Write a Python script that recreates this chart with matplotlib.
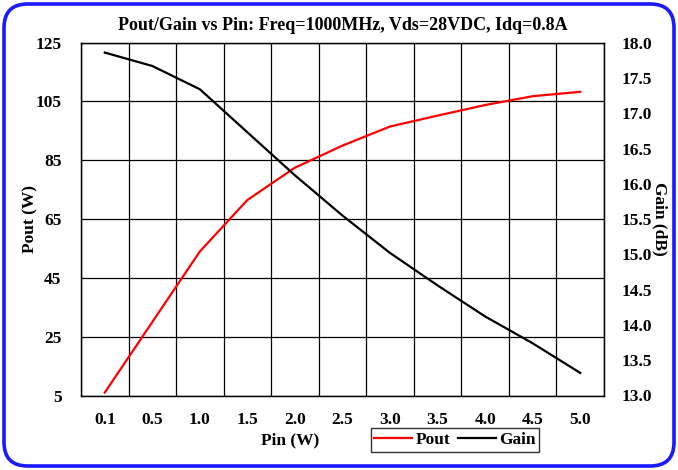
import numpy as np
import matplotlib.pyplot as plt
from matplotlib.patches import FancyBboxPatch

# values
pin_labels = ['0.1', '0.5', '1.0', '1.5', '2.0', '2.5', '3.0', '3.5', '4.0', '4.5', '5.0']
pout = [6, 30, 54, 71.5, 82.5, 90, 96.5, 100.2, 103.8, 106.8, 108.3]
gain = [17.86, 17.67, 17.34, 16.73, 16.12, 15.55, 15.02, 14.56, 14.12, 13.74, 13.32]

plt.rcParams['font.family'] = ['Liberation Serif', 'DejaVu Serif']
plt.rcParams['font.weight'] = 'bold'

fig = plt.figure(figsize=(6.78, 4.70), dpi=100)
ax = fig.add_axes([81/678, 1-395.5/470, (604-81)/678, (395.5-42.7)/470])
ax2 = ax.twinx()

x = np.arange(len(pin_labels))
l1, = ax.plot(x, pout, color='#ff0000', lw=1.6, label='Pout', zorder=3)
l2, = ax2.plot(x, gain, color='black', lw=1.6, label='Gain', zorder=3)

ax.set_xlim(-0.5, len(pin_labels) - 0.5)
ax.set_ylim(5, 125)
ax.set_yticks(np.arange(5, 126, 20))
ax2.set_ylim(13, 18)
ax2.set_yticks(np.arange(13, 18.01, 0.5))
ax2.set_yticklabels([f'{v:.1f}' for v in np.arange(13, 18.01, 0.5)])
ax.set_xticks(x)
ax.set_xticklabels(pin_labels)
ax.set_xticks(np.arange(-0.5, len(pin_labels), 1), minor=True)

ax.grid(axis='y', which='major', color='black', lw=0.9)
ax.grid(axis='x', which='minor', color='black', lw=0.9)
ax.set_axisbelow(True)

for a in (ax, ax2):
    a.tick_params(length=0, which='both', labelsize=12.5)
    for s in a.spines.values():
        s.set_color('black')
        s.set_linewidth(0.9)
ax.tick_params(axis='y', pad=14)
ax2.tick_params(axis='y', pad=13)
ax.tick_params(axis='x', pad=12)

ax.set_ylabel('Pout (W)', fontsize=12.5, fontweight='bold', va='center')
ax.yaxis.set_label_coords(-51/523, 0.5)
ax2.set_ylabel('Gain (dB)', fontsize=12.5, fontweight='bold', rotation=270, va='center')
ax2.yaxis.set_label_coords(1 + 56/523, 0.5)
ax.set_title('Pout/Gain vs Pin: Freq=1000MHz, Vds=28VDC, Idq=0.8A',
             fontsize=13, fontweight='bold', pad=9)
fig.text(290/678, 1-440/470, 'Pin (W)', fontsize=12.5, fontweight='bold',
         ha='center', va='center')

leg = fig.legend(handles=[l1, l2], loc='center', ncol=2,
                 bbox_to_anchor=(455/678, 1-440/470), frameon=True, fancybox=False,
                 edgecolor='black', fontsize=12.5, handlelength=2.2,
                 handletextpad=0.2, columnspacing=0.4, borderpad=0.2,
                 borderaxespad=0)
leg.get_frame().set_linewidth(1.0)

border = FancyBboxPatch((4/678, 4/470), 670/678, 462/470,
                        boxstyle='round,pad=0,rounding_size=0.035',
                        transform=fig.transFigure, fill=False,
                        edgecolor='#1a1aff', lw=2.6, mutation_aspect=678/470)
fig.patches.append(border)

fig.savefig('out.png', dpi=100)
